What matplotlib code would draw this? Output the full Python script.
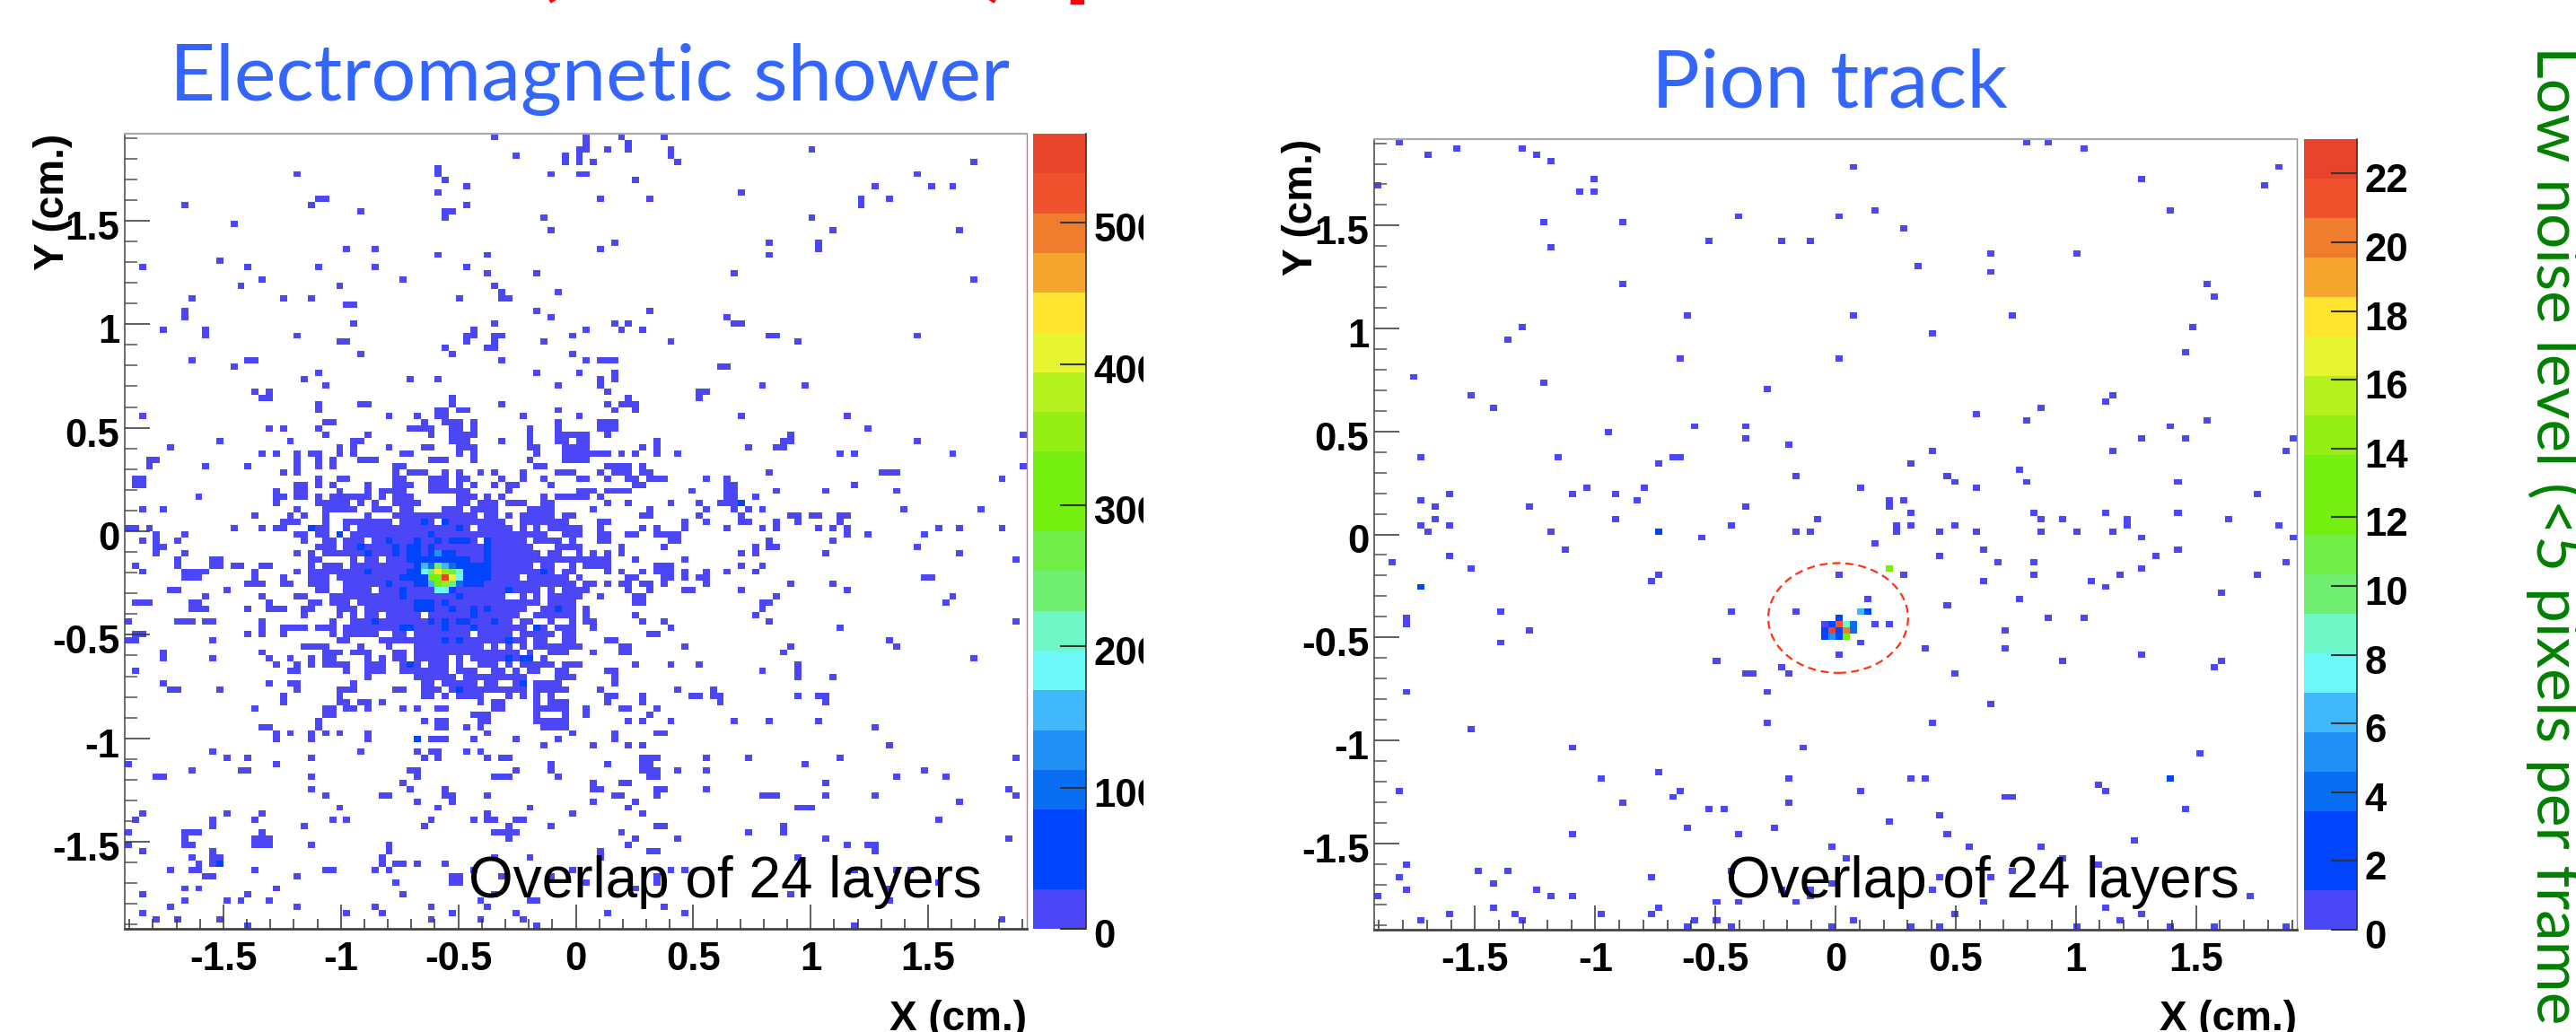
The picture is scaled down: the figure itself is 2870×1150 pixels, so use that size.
import numpy as np
import matplotlib
matplotlib.use("Agg")
import matplotlib.pyplot as plt
from matplotlib.colors import ListedColormap, BoundaryNorm
from matplotlib.font_manager import FontProperties
from matplotlib.patches import Ellipse
from matplotlib.ticker import MultipleLocator
from matplotlib.transforms import Bbox, ScaledTranslation

W, H = 2870, 1150
N_BINS = 128
HALF_RANGE = 1.92

band_colors = ["#4B47F7", "#0044FC", "#0044FC", "#0A6EF3", "#2191F8", "#40B8FB", "#6CF8F6",
               "#6FF7C8", "#70EF70", "#72EE48", "#75EF10", "#75EF10", "#95EF15", "#B5F01F",
               "#E6F52F", "#FFE52F", "#F5A52D", "#EF7D2D", "#F0522D", "#E8442C"]

shower_zmax = 563
pion_zmax = 23
shower_cbar_ticks = [0, 100, 200, 300, 400, 500]
pion_cbar_ticks = [0, 2, 4, 6, 8, 10, 12, 14, 16, 18, 20, 22]
axis_ticks = [-1.5, -1, -0.5, 0, 0.5, 1, 1.5]
axis_labels = ["-1.5", "-1", "-0.5", "0", "0.5", "1", "1.5"]

# hit cells per row (row 0 on top), "a-b" is a run of columns
shower_upper = {
    0: "52 65 70 76", 1: "65 71", 2: "64 65 68 71 77 97", 3: "55 62 64 77", 4: "62 64 66 78 120",
    5: "44", 6: "24 44 60 64 65 112", 7: "45 72", 8: "48 106 114 117", 9: "44 87",
    10: "27 28 67 74 104 108", 11: "8 26 48 104", 12: "33 45 46", 13: "45 59 97", 14: "15",
    15: "60 100 118", 17: "69 91 98", 18: "31 35 67 98", 19: "44 51 91", 20: "13",
    21: "2 17 27 35 48", 22: "51 58 86", 23: "19 39 120", 24: "16 30 52", 25: "53 61",
    26: "9 22 26 47 53 54", 27: "31 32", 28: "8 58 74", 29: "8 60 85",
    30: "32 52 69 71 86 87", 31: "5 11 49 65 70 73", 32: "11 24 48 49 52 53 63 91 92 112",
    33: "30 31 48 52 59 77 95", 34: "45 51 52", 35: "33 46 63", 36: "9 17 18 53 65 67-69",
    37: "15 84 85", 38: "27 58 64 69", 39: "25 40 44 67 69", 40: "28 61 67 90 96",
    41: "18 20 68 81 82", 42: "19 20 46 71 81", 43: "27 33 34 46 53 68 70-72",
    44: "27 44 45 47 48 61 69 72", 45: "2 37 41 44 45 56 64 87 102",
    46: "28 29 42 45-47 49 61 67-69", 47: "20 22 27 40-43 46 47 49 57 61 67-69 105",
    48: "28 34 43 46-49 57 61-65 68 94 127", 49: "13 23 32 33 46-48 53 57 61 62 64 65 75 93 94 112",
    50: "6 30 32 37 42 43 47-49 57 58 62-65 73 75 88 92 93",
    51: "19 21 24 26 27 30 32 39 40 47 49 58 62-68 70 72 75 78 101 103 117",
    52: "3 4 24 27 29 33-35 43-45 49 57 62-65", 53: "3 11 17 24 27 29 38 39 58 59 68-71 73 127",
}

shower_core_left = {
    54: "22 24 38 40-42 45 47 50 52 56 61-63", 55: "1 2 27 30 31 38 39 43-45 47 48 53 56 59",
    56: "1 2 24 25 27 29 34 38-40 43-45 47 49 52 54 55 60", 57: "21 24 25 30 34 36-39 43-48 54",
    58: "10 21 22 24 25 27 29-34 36 38-40 47-49 51 53 59 61-63",
    59: "21 27-31 33 35 38-41 47 48 50-52 54-56 59 60",
    60: "2 5 24 28-32 35-37 39 40 45-47 49-52 57-60", 61: "18 23 25 28 34 38-49 51 52 54 56-60 62 63",
    62: "22-24 28 31-37 39-43 45-53 56-62", 63: "0 1 3 15 19 21 22 26-28 31 33-48 50-54 56 58 60-63",
    64: "4 8 24 25 27 28 30 32-59 62 63", 65: "2 4 7 25 28 29 31-33 35-49 51-56 58-61 63",
    66: "4 5 27-29 31-57 61-63", 67: "4 8 24 26 28-58 60 61", 68: "7 12 13 26 27 32 34 35 37-63",
    69: "1 7 12 13 15 16 19 20 26 28-30 32-57 59 60 63", 70: "2 8-11 18 24 26-60 62 63",
    71: "8-10 18 22 26-28 30-55 57-62", 72: "17-19 22 23 26-28 31-63",
    73: "6 7 14 27 28 31-34 36-58 60 62 63", 74: "11 19 24 25 29-53 56 58 60-63",
    75: "1-3 9 10 20 26 27 29-31 33-58 60-63", 76: "9-11 17 20-22 25 26 30-32 34-56 59-63",
    77: "25 30 32 34 35 37-41 43-55 58-63", 78: "0 7-9 11 12 19 29 32-54 56 57 60 63",
    79: "19 22-25 27-29 31-56 58 59 61-63", 80: "1 2 17 19 22 29 31-35 38 39 41-48 50-54 56-60 62 63",
    81: "0 1 12 30 31 36-53 55 56 58 59 62 63", 82: "25-28 33 37 41-50 52 54 56 58-63",
    83: "5 19 28-30 32-34 38 39 41-55 57 60-62", 84: "5 12 20 23 26 28 29 34 36 38 39 41-45 47 49-57 59",
    85: "21 24 26 28-31 34-36 39-41 43-45 47 50-52 54 56-60 62 63",
    86: "1 23 24 31 34-36 39-45 47-49 52 53 55 57 58 61 62", 87: "34 41-46 48-56 61-63",
    88: "5 20 23 24 32 42 43 45-49 51 52 55 56 58-61", 89: "6 7 13 24 30-32 38 39 42-44 46-56 58-62",
    90: "22 30 42 43 45 47-50 54 56 58 60",
}

shower_core_right = {
    54: "67 69-71 73 74 91 107-109", 55: "64 65 68 71 72 74-76 82 85 124", 56: "72 73 85 86 103",
    57: "64-66 68-71 80 85 86 92 99 109", 58: "64 65 67 85 86 89", 59: "68 71 77 81 84-87",
    60: "66 74 82 86 88 90 110 121", 61: "73 74 81 87 94 95 97 98 101 102",
    62: "67 68 79 82 87 88 92 95 101", 63: "64 67 73 75 79 85 90 92 98 100 102 115 118 124",
    64: "64 67 68 71 72 75-78 102 105 113", 65: "67 68 77 78 91 100", 66: "64 70 76 89 91 92 112",
    67: "64 66 68 70 87 89 99 118", 68: "64-68 72 79 126", 69: "65-68 75-77 87 90",
    70: "68 70 73 75-77 79 82 85 89", 71: "64 71 72 76 77 79 81 82 113 114",
    72: "65 66 68 70 71 73 74 76 82 94 100", 73: "64 65 71 74 79 80 87 102", 74: "64 67 72 73 92 117",
    75: "72 73 90 91 116", 76: "65 90", 77: "65 72 89", 78: "65 66 73 76 91 126", 79: "66 77 101",
    80: "74 75", 81: "68 69 108", 82: "64 70 71 79 94 109", 83: "66 70 71 93", 84: "120",
    85: "64 72 77 81 95", 86: "68 69 90 95", 87: "69 95 100", 88: "69", 89: "67 78 83",
    90: "68 69 73 80 81 83 84 95 98 99",
}

shower_lower = {
    91: "22 30 31 33 34 36 50 52 53 58 60-62 68 73 84 99", 92: "18 28 29 31 32 34 39 41 44 45 52 53 58-62 65 70 71 75",
    93: "28 29 49-51 58 62 65 74", 94: "27 42 44 45 50 51 58-62 71 73 77 86 91 98",
    95: "19 20 27 44 45 48 50 59-62 106", 96: "21 23 26 28 30 34 51 63 69 75 76",
    97: "21 26 34 41 43-45 49 55 61 69", 98: "59 66 71 73 108", 99: "12 33 41 43 44 48 50",
    100: "14 17 26 42 44 51 53 54 73-75 82 88 101 126", 101: "0 21 60 68 73 74 96",
    102: "9 16 17 40 41 55 60 73-75 78 82 113", 103: "4 5 26 41 52-54 61 74 75 109 116",
    104: "39 66 70 71 99", 105: "26 40 45 66 67 75 76 82 125", 106: "28 36 37 45 46 51 69 70 75 90-92 99 106 126",
    107: "41 46 66 72 118", 108: "30 44 57 71 95-97", 109: "2 14 19 51 63 73",
    110: "1 12 18 29 31 43 49 51 52 55 56 115", 111: "12 25 42 54 60 75 76 93", 112: "0 8-10 19 52-55 70 88 93",
    113: "8 18-20 54 72 78 99 125", 114: "0 8 9 18-20 26 37 71 102 105 106", 115: "2 12 37 67 74 75 106",
    116: "9 12 13 36 52 57 67 95", 117: "10 12 13 36 38 39 41 45", 118: "6 9 10 18 28 29 35 37 49 63 77 79 103 109 111",
    119: "11 12 24 46 47 53 60 75", 120: "38 46 47 65 75 115", 121: "8 10 21 72 108", 122: "2 17 39 52 94",
    123: "8 14 16 20 50 57 58 108", 124: "6 24 35 43 51 76", 125: "2 31 36 46 55 68 79",
    126: "4 7 13 43 50 56 124", 127: "17 58 103",
}

# cells above the lowest colour band as (row, col, content)
shower_peak = [(67, 43, 70), (67, 44, 130), (67, 45, 80), (67, 46, 70), (68, 43, 70), (68, 44, 80),
               (68, 45, 70), (68, 46, 60), (69, 42, 150), (69, 43, 90), (69, 44, 240), (69, 45, 150),
               (69, 46, 100), (69, 47, 60), (70, 41, 60), (70, 42, 190), (70, 43, 240), (70, 44, 430),
               (70, 45, 340), (70, 46, 260), (70, 47, 210), (71, 41, 70), (71, 42, 70), (71, 43, 300),
               (71, 44, 320), (71, 45, 545), (71, 46, 400), (71, 47, 180), (72, 42, 60), (72, 43, 160),
               (72, 44, 290), (72, 45, 345), (72, 46, 250), (72, 47, 90), (73, 44, 190), (73, 45, 170),
               (73, 46, 60)]
shower_blue = {
    59: "87", 62: "42 45", 63: "26 47", 64: "30 43", 65: "37 41 44 46-48 51", 66: "33 38 40 41 43 51",
    67: "34 38 40 41 51", 68: "40-42 47 48 51", 69: "41 48-51", 70: "34 40 48-51 59", 71: "39 40 48-51",
    72: "37 41 48-50", 73: "39 54", 74: "39 47", 75: "41-43 45", 76: "41-43 46 49 51 61", 77: "49",
    78: "35 43 45 47 48 52", 79: "39 40 45 49 58", 81: "45 47 54", 84: "54 56 57", 85: "40", 88: "56",
    89: "47", 97: "41", 117: "13",
}

pion_hits = {
    0: "3 90 93", 1: "11 20 98", 2: "7 22", 3: "24", 4: "66 125", 6: "30 106", 7: "0 123", 8: "28 30",
    11: "69 110", 12: "50 64", 13: "23 34", 14: "73", 16: "46 56 60", 17: "24", 18: "85 97", 20: "75",
    21: "85", 23: "34 115", 25: "116", 28: "43 66 88", 30: "20 113", 31: "77", 32: "18", 34: "112",
    35: "42 64", 38: "5", 39: "23", 40: "54", 41: "13 102", 42: "101", 43: "16 92", 44: "83",
    45: "90 115", 46: "44 51 110", 47: "32", 48: "51 106 112 127", 49: "57", 50: "77 102 126",
    51: "6 25 41 42", 52: "39 74", 53: "89", 54: "58 79", 55: "80 90 111", 56: "29 37 67 83",
    57: "10 27 33 122", 58: "6 36 71 73", 59: "8 21 51 71", 60: "74 91 101 111",
    61: "8 33 61 92 95 104 118", 62: "6 10 49 72 74 80 104 125", 63: "7 24 58 60 72 78 83 92 97 102",
    64: "45 106 127", 65: "69", 66: "26 84 111", 67: "10 78 108", 68: "2 86 91 126", 69: "13 106",
    70: "39 64 73 91 103 122", 71: "38 84 99", 72: "101", 73: "117", 74: "68 89", 75: "79",
    76: "17 49 58", 77: "4 93 98", 78: "4 62 69 71", 79: "21 87", 81: "17 67", 82: "76 87",
    83: "64 106", 84: "47 95 117", 85: "56 116", 86: "51 52 57 80", 89: "4 54", 91: "85", 94: "54 77",
    95: "13", 98: "27 59", 99: "114", 102: "39", 103: "31 57 74 76", 104: "100", 105: "3 42 67 101",
    106: "41 87 88", 107: "34 57", 108: "46 48 112", 109: "78", 110: "71", 111: "43 55",
    112: "27 50 79", 113: "105", 114: "63 82 92", 116: "65 95", 117: "4 100", 118: "14 18 49 88",
    119: "3 38 78 85", 120: "16 63", 121: "4 22 56 60 77", 122: "0 24 27 60 121", 123: "47 50 58 84",
    124: "16 39 101", 125: "10 19 31 38 80 106", 126: "6 20 44 47 66 103",
    127: "43 49 63 74 78 97 110 116 126",
}
pion_peak = [(63, 39, 3), (72, 6, 3), (103, 110, 2), (69, 71, 12), (76, 67, 6), (76, 68, 3),
             (77, 64, 3), (78, 63, 3), (78, 64, 21), (78, 65, 9), (78, 66, 4), (79, 62, 3), (79, 63, 22),
             (79, 64, 3), (79, 65, 20), (79, 66, 4), (80, 62, 3), (80, 63, 5), (80, 64, 3), (80, 65, 12)]

bold_font = FontProperties(family="Liberation Sans", weight="bold")


def fill(counts, rows, value):
    for row, spec in rows.items():
        for item in spec.split():
            a, _, b = item.partition("-")
            counts[row, int(a):int(b or a) + 1] = value


def add_box(x0, y0, x1, y1):
    return fig.add_axes([x0 / W, 1 - y1 / H, (x1 - x0) / W, (y1 - y0) / H])


def draw_panel(counts, zmax, cbar_ticks, box, cbar_box, ylabel_x, clip_right=None):
    edges = np.linspace(-HALF_RANGE, HALF_RANGE, N_BINS + 1)
    levels = np.linspace(0, zmax, len(band_colors) + 1)
    cmap = ListedColormap(band_colors)
    norm = BoundaryNorm(levels, cmap.N)

    ax = add_box(*box)
    mesh = ax.pcolormesh(edges, edges[::-1], np.ma.masked_equal(counts, 0), cmap=cmap, norm=norm,
                         antialiased=False, linewidth=0)
    ax.set_xlim(-HALF_RANGE, HALF_RANGE)
    ax.set_ylim(-HALF_RANGE, HALF_RANGE)
    ax.set_xticks(axis_ticks, axis_labels)
    ax.set_yticks(axis_ticks, axis_labels)
    ax.xaxis.set_minor_locator(MultipleLocator(0.1))
    ax.yaxis.set_minor_locator(MultipleLocator(0.1))
    ax.tick_params(axis="x", which="major", direction="in", length=19.5, width=1.1, color="#333333", pad=10)
    ax.tick_params(axis="x", which="minor", direction="in", length=8, width=1.1, color="#333333")
    ax.tick_params(axis="y", which="major", direction="in", length=20, width=1.1, color="#333333", pad=4)
    ax.tick_params(axis="y", which="minor", direction="in", length=10, width=1.1, color="#555555")
    for lab in ax.get_xticklabels() + ax.get_yticklabels():
        lab.set_fontproperties(bold_font)
        lab.set_fontsize(31.5)
    for lab in ax.get_yticklabels():
        lab.set_transform(lab.get_transform() + ScaledTranslation(0, -0.05, fig.dpi_scale_trans))
    ax.spines["top"].set_color("#aaaaaa")
    ax.spines["top"].set_linewidth(1.6)
    ax.spines["right"].set_color("#a08888")
    ax.spines["right"].set_linewidth(1.0)
    ax.spines["left"].set_color("#444444")
    ax.spines["left"].set_linewidth(1.1)
    ax.spines["bottom"].set_color("#444444")
    ax.spines["bottom"].set_linewidth(2.0)

    cax = add_box(*cbar_box)
    cbar = fig.colorbar(mesh, cax=cax, ticks=cbar_ticks, spacing="proportional")
    cbar.outline.set_visible(False)
    cax.spines["right"].set_visible(True)
    cax.spines["right"].set_color("#333333")
    cax.spines["right"].set_linewidth(1.2)
    cax.minorticks_off()
    cax.tick_params(axis="y", which="major", direction="in", length=21, width=1.5, color="#333333", pad=6)
    for lab in cax.get_yticklabels():
        lab.set_fontproperties(bold_font)
        lab.set_fontsize(31.5)
        lab.set_transform(lab.get_transform() + ScaledTranslation(0, -0.05, fig.dpi_scale_trans))
        if clip_right is not None:
            lab.set_clip_box(Bbox([[cbar_box[2], 0], [clip_right, H]]))
            lab.set_clip_on(True)

    fig.text(box[2] / W, 1 - 1148 / H, "X (cm.)", ha="right", va="baseline", fontproperties=bold_font, fontsize=33)
    fig.text(ylabel_x / W, 1 - box[1] / H, "Y (cm.)", ha="right", va="baseline", rotation=90, rotation_mode="anchor",
             fontproperties=bold_font, fontsize=33)
    return ax


shower = np.zeros((N_BINS, N_BINS))
fill(shower, shower_upper, 10)
fill(shower, shower_core_left, 10)
fill(shower, shower_core_right, 10)
fill(shower, shower_lower, 10)
fill(shower, shower_blue, 50)
for row, col, value in shower_peak:
    shower[row, col] = value

pion = np.zeros((N_BINS, N_BINS))
fill(pion, pion_hits, 1)
for row, col, value in pion_peak:
    pion[row, col] = value

fig = plt.figure(figsize=(W / 100, H / 100), dpi=100, facecolor="white")

draw_panel(shower, shower_zmax, shower_cbar_ticks, (139, 149, 1144, 1035), (1151, 149, 1210, 1035), 71, clip_right=1274)
ax2 = draw_panel(pion, pion_zmax, pion_cbar_ticks, (1531, 155, 2559, 1036), (2567, 155, 2626, 1036), 1462)
ax2.add_patch(Ellipse((0.011, -0.406), 0.582, 0.533, fill=False, edgecolor="#ff3311", linestyle=(0, (4, 2.5)), linewidth=1.6))

fig.text(522 / W, 1 - 1000 / H, "Overlap of 24 layers", fontsize=46, family="Liberation Sans", va="baseline")
fig.text(1923 / W, 1 - 1000 / H, "Overlap of 24 layers", fontsize=46, family="Liberation Sans", va="baseline")

fig.text(189 / W, 1 - 112 / H, "Electromagnetic shower", color="#3366FF", fontsize=63.5, family="Lato", va="baseline")
fig.text(1840 / W, 1 - 119 / H, "Pion track", color="#3366FF", fontsize=64.5, family="Lato", va="baseline")

fig.text(2826 / W, 1 - 51 / H, "Low noise level (<5 pixels per frame", color="#008000", fontsize=50, family="Lato",
         rotation=-90, rotation_mode="anchor", ha="left", va="baseline")

# bottom of the slide headline, the rest is cut off by the top edge
for x, s in [(592, "("), (1095, ")"), (1184, "p")]:
    fig.text(x / W, 1 + 16 / H, s, color="#FF0000", fontsize=90, family="Lato", weight="bold", va="baseline")

fig.savefig("out.png", dpi=100)
